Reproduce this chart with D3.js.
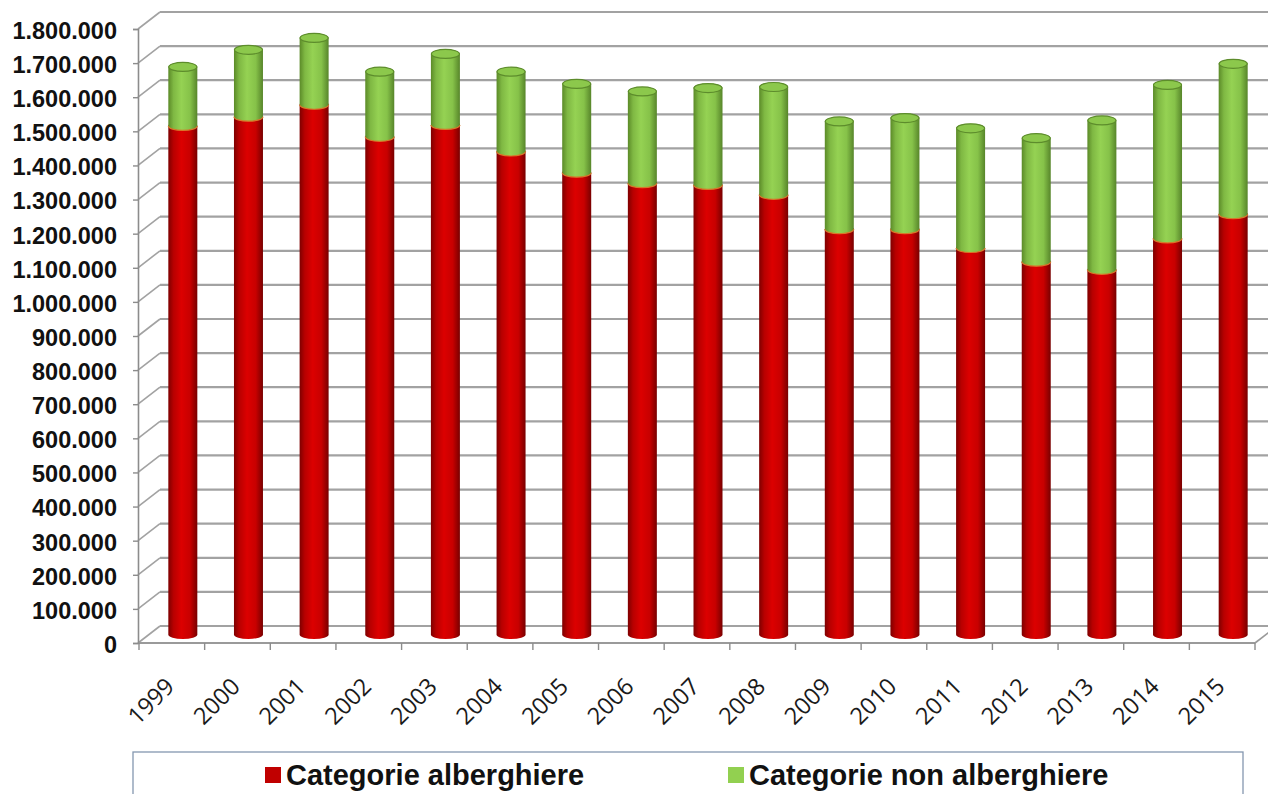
<!DOCTYPE html>
<html>
<head>
<meta charset="utf-8">
<script src="https://cdn.jsdelivr.net/npm/d3@7"></script>
<style>
  body { margin: 0; background: #fff; }
  svg { display: block; }
</style>
</head>
<body>
<svg width="1268" height="794"></svg>
<script>
// dati
var years = ["1999","2000","2001","2002","2003","2004","2005","2006","2007","2008",
             "2009","2010","2011","2012","2013","2014","2015"];
var alberghiere = [1491000,1518000,1553000,1459000,1494000,1416000,1354000,1323000,1318000,1289000,
                   1188000,1188000,1133000,1093000,1069000,1161000,1232000];
var nonAlberghiere = [173000,196000,196000,191000,208000,234000,260000,269000,284000,316000,
                      316000,326000,351000,362000,438000,450000,441000];
var yTicks = [0,100000,200000,300000,400000,500000,600000,700000,800000,900000,
              1000000,1100000,1200000,1300000,1400000,1500000,1600000,1700000,1800000];
var legendLabels = ["Categorie alberghiere", "Categorie non alberghiere"];

var svg = d3.select("svg");

// finto 3D: spostamento verso la parete di fondo
var depth = {dx: 22, dy: -17};
var front = {left: 138, right: 1255, bottom: 643, top: 29};

var y = d3.scaleLinear().domain([0, 1800000]).range([front.bottom, front.top]);
var x = d3.scaleBand().domain(years).range([front.left + 1, front.right]);

var itLocale = d3.formatLocale({decimal: ",", thousands: ".", grouping: [3], currency: ["", "€"]});
var fmt = itLocale.format(",");

// gradienti cilindri
var defs = svg.append("defs");
function cylGrad(id, stops) {
  var g = defs.append("linearGradient").attr("id", id)
      .attr("x1", 0).attr("x2", 1).attr("y1", 0).attr("y2", 0);
  stops.forEach(function(s) { g.append("stop").attr("offset", s[0]).attr("stop-color", s[1]); });
}
cylGrad("gRed", [[0,"#7e0000"],[0.18,"#b80000"],[0.45,"#dc0000"],[0.75,"#c80000"],[1,"#780000"]]);
cylGrad("gGreen", [[0,"#5b8a28"],[0.18,"#7fb843"],[0.45,"#95d253"],[0.75,"#86c249"],[1,"#57852a"]]);

var grid = svg.append("g");

// griglia parete di fondo
grid.selectAll(".back")
  .data(yTicks)
  .enter().append("line")
  .attr("x1", front.left + depth.dx)
  .attr("x2", front.right + depth.dx + 40)
  .attr("y1", function(d) { return y(d) + depth.dy; })
  .attr("y2", function(d) { return y(d) + depth.dy; })
  .style("stroke", "#a2a2a2")
  .style("stroke-width", 2.2);

// parete laterale
grid.selectAll(".side")
  .data(yTicks)
  .enter().append("line")
  .attr("x1", front.left)
  .attr("x2", front.left + depth.dx)
  .attr("y1", function(d) { return y(d); })
  .attr("y2", function(d) { return y(d) + depth.dy; })
  .style("stroke", "#a2a2a2")
  .style("stroke-width", 1.6);

// pavimento
grid.append("line")
  .attr("x1", front.left).attr("x2", front.right)
  .attr("y1", y(0)).attr("y2", y(0))
  .style("stroke", "#9a9a9a").style("stroke-width", 2);
grid.append("line")
  .attr("x1", front.right).attr("x2", front.right + depth.dx)
  .attr("y1", y(0)).attr("y2", y(0) + depth.dy)
  .style("stroke", "#9a9a9a").style("stroke-width", 1.6);

// cilindri
var r = 14.5, ry = 4.5;
function body(cx, y0, y1) {
  return "M" + (cx - r) + "," + y1 +
         "L" + (cx - r) + "," + y0 +
         "A" + r + "," + ry + " 0 0 0 " + (cx + r) + "," + y0 +
         "L" + (cx + r) + "," + y1 +
         "A" + r + "," + ry + " 0 0 0 " + (cx - r) + "," + y1 + "Z";
}

var data = years.map(function(yr, i) {
  return {year: yr, a: alberghiere[i], n: nonAlberghiere[i]};
});

var bars = svg.selectAll(".bar")
  .data(data)
  .enter().append("g")
  .attr("class", "bar");

function cx(d) { return x(d.year) + x.bandwidth() / 2 + depth.dx / 2; }
function ym(v) { return y(v) + depth.dy / 2; }

bars.append("path")
  .attr("d", function(d) { return body(cx(d), ym(0), ym(d.a)); })
  .style("fill", "url(#gRed)");

bars.append("path")
  .attr("d", function(d) { return body(cx(d), ym(d.a), ym(d.a + d.n)); })
  .style("fill", "url(#gGreen)");

// bordo tra i due segmenti
bars.append("path")
  .attr("d", function(d) {
    var c = cx(d), yy = ym(d.a);
    return "M" + (c - r) + "," + yy + "A" + r + "," + ry + " 0 0 0 " + (c + r) + "," + yy;
  })
  .style("fill", "none")
  .style("stroke", "#d9772a")
  .style("stroke-width", 1.2);

bars.append("ellipse")
  .attr("cx", cx)
  .attr("cy", function(d) { return ym(d.a + d.n); })
  .attr("rx", r - 0.5)
  .attr("ry", ry)
  .style("fill", "#8cc84c")
  .style("stroke", "#5d8c2c")
  .style("stroke-width", 1.2);

// asse valori
var yAxis = svg.append("g")
  .attr("transform", "translate(" + front.left + ",0)")
  .call(d3.axisLeft(y)
        .tickValues(yTicks)
        .tickSize(5)
        .tickPadding(16)
        .tickFormat(fmt));
yAxis.select(".domain").style("stroke", "#8c8c8c").style("stroke-width", 1.6);
yAxis.selectAll(".tick line").style("stroke", "#8c8c8c").style("stroke-width", 1.4);
yAxis.selectAll(".tick text")
  .attr("dy", "0.4em")
  .style("font", "bold 23.5px 'Liberation Sans', Arial, sans-serif")
  .style("fill", "#111");

// asse categorie
var xg = svg.append("g");
xg.selectAll(".xt")
  .data(years.concat(["end"]))
  .enter().append("line")
  .attr("x1", function(d, i) { return i < years.length ? x(d) : front.right; })
  .attr("x2", function(d, i) { return i < years.length ? x(d) : front.right; })
  .attr("y1", y(0))
  .attr("y2", y(0) + 7)
  .style("stroke", "#8c8c8c")
  .style("stroke-width", 1.4);

xg.selectAll(".xl")
  .data(years)
  .enter().append("text")
  .attr("transform", function(d) {
    return "translate(" + (x(d) + x.bandwidth() / 2 + 4) + "," + 688 + ") rotate(-45)";
  })
  .attr("text-anchor", "end")
  .style("font", "23.5px 'Open Sans', sans-serif")
  .style("fill", "#1a1a1a")
  .text(function(d) { return d; });

// legenda
var leg = svg.append("g");
leg.append("rect")
  .attr("x", 133).attr("y", 752)
  .attr("width", 1110).attr("height", 80)
  .style("fill", "#fff")
  .style("stroke", "#8497b0")
  .style("stroke-width", 1.3);

var legItems = [
  {label: legendLabels[0], color: "#c00000", x: 265},
  {label: legendLabels[1], color: "#92d050", x: 728}
];
var li = leg.selectAll(".li").data(legItems).enter().append("g");
li.append("rect")
  .attr("x", function(d) { return d.x; })
  .attr("y", 767)
  .attr("width", 16).attr("height", 16)
  .style("fill", function(d) { return d.color; });
li.append("text")
  .attr("x", function(d) { return d.x + 21; })
  .attr("y", 785)
  .style("font", "bold 29px 'Liberation Sans', Arial, sans-serif")
  .style("fill", "#111")
  .text(function(d) { return d.label; });
</script>
</body>
</html>
